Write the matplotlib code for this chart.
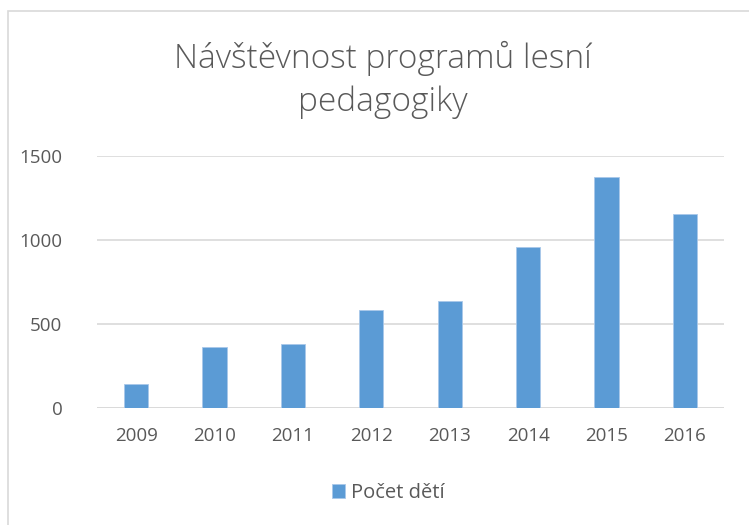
import matplotlib.pyplot as plt
from matplotlib.patches import Rectangle

years = ["2009", "2010", "2011", "2012", "2013", "2014", "2015", "2016"]
values = [145, 362, 378, 585, 634, 959, 1374, 1152]
yticks = [0, 500, 1000, 1500]

plt.rcParams['font.family'] = ['Open Sans', 'DejaVu Sans']
txt = '#595959'
fig = plt.figure(figsize=(7.49, 5.25), dpi=100)
ax = fig.add_axes([97/749, 1-408/525, 627/749, 252/525])
x = range(len(years))
ax.bar(x, values, width=0.31, color='#5B9BD5', edgecolor='#A9C8EA', linewidth=0.6, zorder=3, label='Počet dětí')
ax.set_xlim(-0.5, len(years)-0.5)
ax.set_ylim(0, 1500)
ax.set_yticks(yticks)
ax.set_yticklabels([str(v) for v in yticks])
ax.set_xticks(list(x))
ax.set_xticklabels(years)
ax.grid(axis='y', color='#D9D9D9', linewidth=1.2, zorder=0)
for s in ax.spines.values():
    s.set_visible(False)
ax.axhline(0, color='#D9D9D9', linewidth=1.2, zorder=2)
ax.tick_params(length=0, labelsize=13.5, colors=txt)
ax.tick_params(axis='x', pad=14)
ax.tick_params(axis='y', pad=25)
fig.text(383/749, 1-80/525, "Návštěvnost programů lesní\npedagogiky", ha='center', va='center',
         fontsize=24, color=txt, linespacing=1.38, fontweight='light')
leg = fig.legend(loc='center', bbox_to_anchor=(388/749, 1-493/525), frameon=False,
                 fontsize=14.5, handlelength=0.65, handleheight=0.65, handletextpad=0.3, labelcolor=txt)
fig.patches.append(Rectangle((8/749, -0.1), 1.2, 1.1-11/525, transform=fig.transFigure,
                             fill=False, edgecolor='#D9D9D9', linewidth=1.2))
fig.savefig('out.png', dpi=100)
